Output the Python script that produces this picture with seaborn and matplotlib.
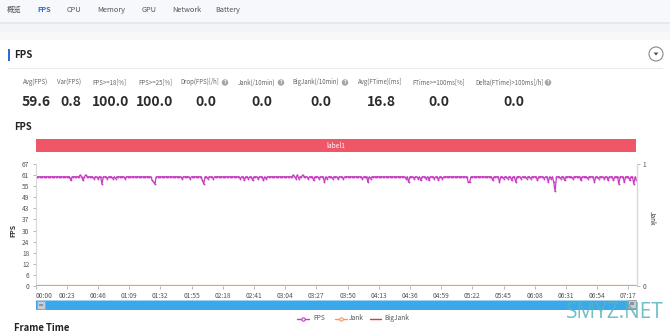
import numpy as np
import pandas as pd
import matplotlib
matplotlib.use("Agg")
import matplotlib.pyplot as plt
import matplotlib.patches as mpatches
from matplotlib.lines import Line2D
import seaborn as sns

# ---------------- data ----------------
tabs = ["概览", "FPS", "CPU", "Memory", "GPU", "Network", "Battery"]
metric_names = ["Avg(FPS)", "Var(FPS)", "FPS>=18[%]", "FPS>=25[%]", "Drop(FPS)[/h]",
                "Jank(/10min)", "BigJank(/10min)", "Avg(FTime)[ms]", "FTime>=100ms[%]",
                "Delta(FTime)>100ms[/h]"]
metric_values = ["59.6", "0.8", "100.0", "100.0", "0.0", "0.0", "0.0", "16.8", "0.0", "0.0"]
metric_help = [False, False, False, False, True, True, True, False, False, True]

fps = [
    60, 60, 60, 60, 60, 60, 60, 60, 60, 60, 60, 60, 60, 60, 60, 60, 60, 60, 60, 60,
    60, 60, 60, 60, 60, 60, 58, 60, 60, 60, 60, 60, 60, 61, 60, 58, 60, 61, 60, 60,
    60, 60, 60, 59, 60, 60, 59, 60, 60, 56, 60, 60, 60, 59, 60, 60, 60, 59, 60, 59,
    60, 60, 60, 60, 60, 60, 59, 60, 60, 60, 60, 60, 60, 60, 60, 60, 60, 60, 60, 60,
    60, 60, 60, 60, 60, 60, 58, 57, 56, 60, 60, 60, 60, 60, 60, 60, 60, 60, 60, 60,
    60, 60, 60, 60, 60, 60, 60, 60, 59, 60, 60, 60, 60, 60, 59, 60, 60, 60, 60, 60,
    60, 60, 60, 58, 56, 60, 60, 59, 60, 60, 60, 59, 60, 60, 60, 60, 60, 60, 60, 60,
    60, 60, 60, 60, 60, 60, 60, 60, 60, 60, 60, 59, 60, 60, 58, 60, 60, 59, 60, 60,
    58, 60, 60, 60, 59, 60, 60, 60, 58, 60, 59, 60, 60, 60, 60, 60, 60, 60, 60, 60,
    60, 60, 60, 60, 60, 60, 60, 60, 60, 60, 61, 60, 59, 61, 59, 60, 60, 61, 60, 60,
    60, 59, 60, 60, 60, 58, 60, 60, 60, 59, 60, 60, 60, 57, 60, 59, 60, 60, 60, 59,
    60, 60, 60, 59, 60, 60, 60, 59, 60, 60, 60, 60, 60, 60, 60, 60, 60, 60, 60, 60,
    60, 59, 60, 60, 60, 57, 60, 59, 60, 60, 60, 60, 60, 60, 60, 60, 60, 60, 60, 60,
    60, 60, 60, 60, 60, 60, 60, 60, 60, 60, 60, 60, 60, 59, 60, 57, 60, 60, 60, 59,
    60, 60, 59, 60, 58, 60, 60, 60, 59, 60, 58, 60, 60, 60, 59, 60, 60, 58, 60, 60,
    59, 60, 60, 60, 60, 60, 60, 60, 60, 60, 60, 60, 60, 60, 60, 60, 60, 60, 60, 57,
    57, 60, 60, 60, 60, 60, 60, 60, 60, 60, 60, 60, 60, 60, 60, 60, 60, 58, 60, 60,
    60, 60, 57, 60, 60, 59, 60, 60, 59, 60, 60, 58, 60, 60, 57, 60, 60, 60, 59, 60,
    60, 60, 59, 60, 60, 59, 60, 60, 60, 60, 58, 60, 60, 60, 60, 59, 60, 60, 57, 60,
    59, 60, 57, 52, 60, 60, 60, 59, 60, 60, 58, 60, 60, 60, 60, 60, 59, 60, 60, 60,
    60, 60, 58, 60, 60, 60, 60, 59, 60, 60, 60, 60, 57, 60, 60, 59, 60, 60, 60, 59,
    60, 60, 58, 60, 60, 60, 58, 60, 60, 60, 56, 60, 60, 60, 57, 60, 60, 60, 58, 60,
    60, 56, 60, 58,
]
jank = [0] * len(fps)
bigjank = [0] * len(fps)
x_tick_labels = ["00:00", "00:23", "00:46", "01:09", "01:32", "01:55", "02:18", "02:41",
                 "03:04", "03:27", "03:50", "04:13", "04:36", "04:59", "05:22", "05:45",
                 "06:08", "06:31", "06:54", "07:17"]
y_max = 67
y_tick_labels = ["0", "6", "12", "18", "24", "30", "37", "43", "49", "55", "61", "67"]

df = pd.DataFrame({"t": np.arange(len(fps)), "FPS": fps, "Jank": jank, "BigJank": bigjank})

# ---------------- styling ----------------
sns.set_theme(style="white")
FONT = ["Noto Sans CJK SC", "DejaVu Sans"]
plt.rcParams["font.family"] = FONT

W, H = 670, 332
fig = plt.figure(figsize=(W / 100, H / 100), dpi=100)
fig.patch.set_facecolor("white")

def fx(x):
    return x / W

def fy(y):
    return 1 - y / H

def rect(x0, y0, x1, y1, color, **kw):
    fig.add_artist(mpatches.Rectangle((fx(x0), fy(y1)), (x1 - x0) / W, (y1 - y0) / H,
                                      transform=fig.transFigure, facecolor=color,
                                      edgecolor="none", **kw))

def text(x, y, s, **kw):
    kw.setdefault("family", FONT)
    fig.text(fx(x), fy(y), s, **kw)

# header bands
rect(0, 0, 670, 22, "#F7F8FB")
rect(0, 22, 670, 24, "#E6E8EE")
rect(0, 24, 670, 40, "#F3F4F8")
rect(0, 32, 670, 40, "#F7F8FA")

tab_x = [14, 44, 74, 111, 149, 187, 228]
for s, x in zip(tabs, tab_x):
    is_sel = s == "FPS"
    text(x, 10, s, ha="center", va="center", fontsize=5.3,
         color="#2F6BD8" if is_sel else "#555555",
         fontweight="bold" if is_sel else "normal")

# section header
rect(8, 49, 10, 61, "#2F6BD8")
text(14, 55, "FPS", ha="left", va="center", fontsize=7, fontweight="bold", color="#222222")
fig.add_artist(Line2D([fx(8), fx(662)], [fy(67.5), fy(67.5)], transform=fig.transFigure,
                      color="#ECECEC", lw=0.8))
fig.add_artist(mpatches.Ellipse((fx(656), fy(54)), 14 / W, 14 / H, transform=fig.transFigure,
                                facecolor="white", edgecolor="#8A8A8A", lw=0.8))
fig.add_artist(mpatches.Polygon([(fx(653.5), fy(52.5)), (fx(658.5), fy(52.5)), (fx(656), fy(55.5))],
                                closed=True, transform=fig.transFigure, facecolor="#555555",
                                edgecolor="none"))

# metrics
label_cx = [36, 69, 109, 155, 200, 257, 316, 380, 439, 510]
value_cx = [36.5, 71, 111, 155, 206, 262, 321, 381, 439, 514]
icon_x = [None, None, None, None, 225, 281, 345, None, None, 548]
for name, val, lx, vx, has_help, ix in zip(metric_names, metric_values, label_cx, value_cx,
                                          metric_help, icon_x):
    text(lx, 82.5, name, ha="center", va="center", fontsize=4.4, color="#666666")
    text(vx, 101.5, val, ha="center", va="center", fontsize=10, fontweight="bold",
         color="#2B2B2B")
    if has_help:
        fig.add_artist(mpatches.Ellipse((fx(ix), fy(82.5)), 6.5 / W, 6.5 / H,
                                        transform=fig.transFigure, facecolor="#A6A6A6",
                                        edgecolor="none"))
        text(ix, 82.7, "?", ha="center", va="center", fontsize=3.6, color="white",
             fontweight="bold")

text(14, 127, "FPS", ha="left", va="center", fontsize=6.8, fontweight="bold", color="#222222")

# label bar
rect(36, 139, 636, 152, "#EF5667")
text(336, 145.7, "label1", ha="center", va="center", fontsize=4.8, color="white")

# ---------------- main chart ----------------
ax_left, ax_right, ax_top, ax_bottom = 35.5, 636.5, 164, 286
ax = fig.add_axes([fx(ax_left), fy(ax_bottom), (ax_right - ax_left) / W, (ax_bottom - ax_top) / H])
ax.set_facecolor("none")
sns.lineplot(data=df, x="t", y="FPS", ax=ax, color="#C83CC2", linewidth=0.9,
             marker="o", markersize=1.3, markeredgewidth=0, legend=False)
ax.set_xlim(0, len(fps) - 1)
ax.set_ylim(0, y_max)
ax.set_yticks([y_max * i / (len(y_tick_labels) - 1) for i in range(len(y_tick_labels))])
ax.set_yticklabels(y_tick_labels)
ax.set_xticks([23 * i for i in range(len(x_tick_labels))])
ax.set_xticklabels(x_tick_labels)
ax.set_xlabel("")
ax.set_ylabel("")
for s in ["top", "right", "bottom"]:
    ax.spines[s].set_visible(False)
ax.spines["left"].set_color("#D9D9D9")
ax.spines["left"].set_linewidth(0.8)
ax.tick_params(axis="y", length=2.5, width=0.6, color="#AAAAAA", labelsize=4.8,
               labelcolor="#555555", pad=2, left=True)
ax.tick_params(axis="x", length=2.5, width=0.6, color="#AAAAAA", labelsize=4.8,
               labelcolor="#555555", pad=1.5, bottom=True, direction="out")
xt = ax.get_xticklabels()
xt[0].set_horizontalalignment("left")
for lab in ax.get_xticklabels() + ax.get_yticklabels():
    lab.set_family(FONT)

ax2 = ax.twinx()
ax2.set_facecolor("none")
sns.lineplot(data=df, x="t", y="BigJank", ax=ax2, color="#E8333A", linewidth=1.2, legend=False)
sns.lineplot(data=df, x="t", y="Jank", ax=ax2, color="#F39A62", linewidth=1.6, legend=False)
ax2.set_ylim(0, 1)
ax2.set_yticks([0, 1])
ax2.set_yticklabels(["0", "1"])
ax2.set_ylabel("")
for s in ["top", "left", "bottom"]:
    ax2.spines[s].set_visible(False)
ax2.spines["right"].set_color("#D9D9D9")
ax2.spines["right"].set_linewidth(1.0)
ax2.tick_params(axis="y", length=2.5, width=0.6, color="#AAAAAA", labelsize=4.8,
                labelcolor="#555555", pad=2, right=True)
for lab in ax2.get_yticklabels():
    lab.set_family(FONT)

text(13, 230, "FPS", ha="center", va="center", rotation=90, fontsize=5, fontweight="bold",
     color="#333333")
text(652, 218, "Jank", ha="center", va="center", rotation=-90, fontsize=4.6, color="#333333")

# slider
rect(36, 300.5, 636, 309.5, "#3BA8EC")
rect(36, 300, 636, 300.7, "#9FD3F5")
for hx, hy in [(41, 305), (631.5, 303.5)]:
    fig.add_artist(mpatches.Rectangle((fx(hx - 4), fy(hy + 4)), 8 / W, 8 / H,
                                      transform=fig.transFigure, facecolor="#C9CDD3",
                                      edgecolor="#9AA0A8", lw=0.6))
    rect(hx - 2, hy - 1.2, hx + 2, hy + 1.2, "#8E949C")

# legend
leg_y = 318.5
fig.add_artist(Line2D([fx(297), fx(309)], [fy(leg_y), fy(leg_y)], transform=fig.transFigure,
                      color="#C83CC2", lw=1))
fig.add_artist(Line2D([fx(303)], [fy(leg_y)], transform=fig.transFigure, color="#C83CC2",
                      marker="o", markersize=2.4, markerfacecolor="white", markeredgewidth=0.8,
                      lw=0))
text(313, leg_y, "FPS", ha="left", va="center", fontsize=4.8, color="#555555")
fig.add_artist(Line2D([fx(335), fx(347)], [fy(leg_y), fy(leg_y)], transform=fig.transFigure,
                      color="#F39A62", lw=1))
fig.add_artist(Line2D([fx(341)], [fy(leg_y)], transform=fig.transFigure, color="#F39A62",
                      marker="o", markersize=2.4, markerfacecolor="white", markeredgewidth=0.8,
                      lw=0))
text(349, leg_y, "Jank", ha="left", va="center", fontsize=4.8, color="#555555")
fig.add_artist(Line2D([fx(370), fx(381)], [fy(leg_y), fy(leg_y)], transform=fig.transFigure,
                      color="#E8333A", lw=1))
text(384, leg_y, "BigJank", ha="left", va="center", fontsize=4.8, color="#555555")

# next section title and watermark
text(14, 331, "Frame Time", ha="left", va="baseline", fontsize=6.8, fontweight="bold",
     color="#222222")
text(615, 312, "SMYZ.NET", ha="center", va="center", fontsize=15, color="#56B3BF",
     alpha=0.85, family=["Open Sans", "DejaVu Sans"])

fig.savefig("out.png", dpi=100, facecolor="white")
